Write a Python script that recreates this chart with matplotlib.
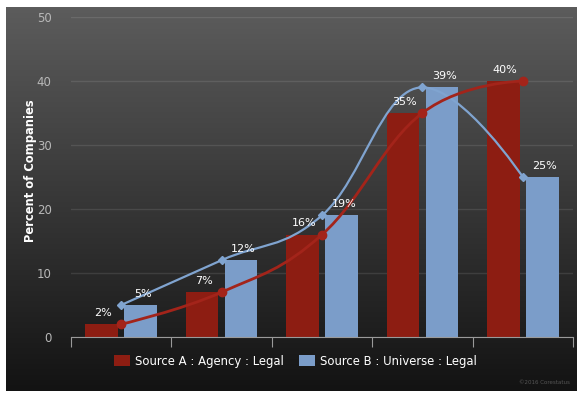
import numpy as np
import matplotlib
matplotlib.use("Agg")
import matplotlib.pyplot as plt
from matplotlib.path import Path
from matplotlib.patches import PathPatch, Patch

# survey data, one group per category slot
categories = ["1", "2", "3", "4", "5"]
source_a = [2, 7, 16, 35, 40]
source_b = [5, 12, 19, 39, 25]
label_a = "Source A : Agency : Legal"
label_b = "Source B : Universe : Legal"

RED = "#8d1d12"
RED_LINE = "#a3241a"
BLUE = "#7b9dc9"
BLUE_LINE = "#80a4d0"


def spline_path(xs, ys, smoothing=1.5):
    # smooth curve through the points, controls kept flat at local extremes
    n = len(xs)
    denom = smoothing + 1
    left = [None] * n
    right = [None] * n
    for i in range(1, n - 1):
        lx, ly = xs[i - 1], ys[i - 1]
        px, py = xs[i], ys[i]
        nx, ny = xs[i + 1], ys[i + 1]
        lcx = (smoothing * px + lx) / denom
        lcy = (smoothing * py + ly) / denom
        rcx = (smoothing * px + nx) / denom
        rcy = (smoothing * py + ny) / denom
        corr = 0
        if rcx != lcx:
            corr = (rcy - lcy) * (rcx - px) / (rcx - lcx) + py - rcy
        lcy += corr
        rcy += corr
        if lcy > ly and lcy > py:
            lcy = max(ly, py)
            rcy = 2 * py - lcy
        elif lcy < ly and lcy < py:
            lcy = min(ly, py)
            rcy = 2 * py - lcy
        if rcy > ny and rcy > py:
            rcy = max(ny, py)
            lcy = 2 * py - rcy
        elif rcy < ny and rcy < py:
            rcy = min(ny, py)
            lcy = 2 * py - rcy
        left[i] = (lcx, lcy)
        right[i] = (rcx, rcy)
    verts = [(xs[0], ys[0])]
    codes = [Path.MOVETO]
    for i in range(n - 1):
        c1 = right[i] if right[i] else (xs[i], ys[i])
        c2 = left[i + 1] if left[i + 1] else (xs[i + 1], ys[i + 1])
        verts += [c1, c2, (xs[i + 1], ys[i + 1])]
        codes += [Path.CURVE4] * 3
    return Path(verts, codes)


fig = plt.figure(figsize=(5.78, 3.93), dpi=100)
fig.patch.set_facecolor("white")

# dark gradient panel behind everything
bg = fig.add_axes([6 / 578, 2 / 393, 571 / 578, 384 / 393], zorder=0)
grad = np.linspace(0, 1, 256).reshape(-1, 1)
top = np.array([0x5c, 0x5c, 0x5c]) / 255
bot = np.array([0x13, 0x13, 0x13]) / 255
img = top * (1 - grad[:, :, None]) + bot * grad[:, :, None]
bg.imshow(img, aspect="auto", extent=[0, 1, 0, 1])
bg.set_axis_off()

ax = fig.add_axes([71 / 578, 56 / 393, 502 / 578, 320 / 393], zorder=1)
ax.set_facecolor("none")

x = np.arange(len(categories))
w = 0.325
ax.bar(x - 0.195, source_a, w, color=RED, zorder=2)
ax.bar(x + 0.195, source_b, w, color=BLUE, zorder=2)

ax.add_patch(PathPatch(spline_path(x, source_b), fill=False,
                       edgecolor=BLUE_LINE, lw=1.6, zorder=3))
ax.add_patch(PathPatch(spline_path(x, source_a), fill=False,
                       edgecolor=RED_LINE, lw=2, zorder=3))
ax.plot(x, source_b, ls="none", marker="D", ms=4.5, color=BLUE_LINE, zorder=4)
ax.plot(x, source_a, ls="none", marker="o", ms=6, color=RED_LINE, zorder=4)

for i in range(len(x)):
    ax.annotate(f"{source_a[i]}%", (x[i] - 0.18, source_a[i]), xytext=(0, 8),
                textcoords="offset points", ha="center", va="center",
                color="white", fontsize=8, zorder=5)
    ax.annotate(f"{source_b[i]}%", (x[i] + 0.22, source_b[i]), xytext=(0, 8),
                textcoords="offset points", ha="center", va="center",
                color="white", fontsize=8, zorder=5)

ax.set_xlim(-0.5, len(x) - 0.5)
ax.set_ylim(0, 50)
ax.set_yticks(range(0, 51, 10))
ax.set_xticks(np.arange(-0.5, len(x), 1.0))
ax.set_xticklabels([])
ax.tick_params(axis="x", length=7, color="#9a9a9a", direction="out")
ax.tick_params(axis="y", length=0, pad=14, labelcolor="#b8b8b8", labelsize=8.5)
ax.grid(axis="y", color="white", alpha=0.1, lw=1)
ax.set_axisbelow(True)
for side in ["top", "right", "left"]:
    ax.spines[side].set_visible(False)
ax.spines["bottom"].set_color("#9a9a9a")
ax.spines["bottom"].set_zorder(6)

ax.set_ylabel("Percent of Companies", color="white", fontsize=8.3,
              fontweight="bold")
ax.yaxis.set_label_coords(-0.068, 0.52)

handles = [Patch(facecolor=RED, label=label_a), Patch(facecolor=BLUE, label=label_b)]
fig.legend(handles=handles, loc="center", bbox_to_anchor=(295 / 578, 1 - 361 / 393),
           ncol=2, frameon=False, fontsize=8.4, labelcolor="white",
           handlelength=1.4, handleheight=1.1, handletextpad=0.4, columnspacing=1.3)

fig.text(570 / 578, 1 - 383 / 393, "©2016 Corestatus", color="#555555",
         fontsize=4, ha="right", va="center")

fig.savefig("out.png", dpi=100)
